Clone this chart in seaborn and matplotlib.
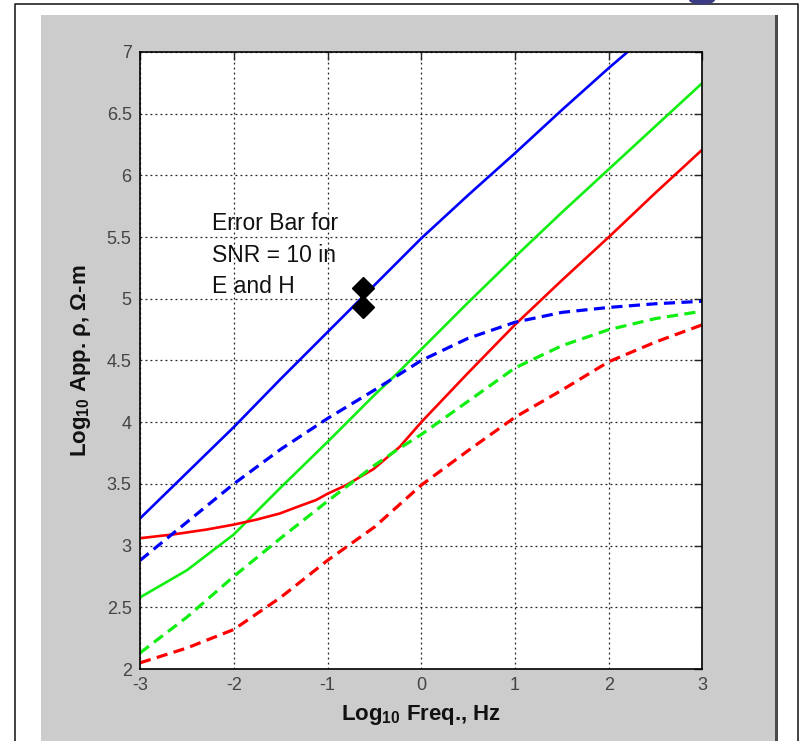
import numpy as np
import pandas as pd
import matplotlib.pyplot as plt
import matplotlib.patches as mpatches
import seaborn as sns

# valeurs (log10 freq -> log10 resistivite apparente)
freq = [-3, -2.5, -2, -1.5, -1, -0.5, -0.25, 0, 0.5, 1, 1.5, 2, 2.5, 3]
blue_solid_x = [-3, -2.5, -2, -1.5, -1, -0.5, 0, 0.5, 1, 1.5, 2, 2.2]
blue_solid = [3.22, 3.59, 3.96, 4.35, 4.73, 5.11, 5.49, 5.84, 6.18, 6.53, 6.87, 7.0]
green_solid = [2.58, 2.80, 3.09, 3.47, 3.84, 4.22, 4.40, 4.59, 4.97, 5.34, 5.70, 6.05, 6.40, 6.75]
red_solid_x = [-3, -2.65, -2.29, -2, -1.76, -1.51, -1.3, -1.12, -1, -0.8, -0.51, -0.23,
               0, 0.5, 1, 1.5, 2, 2.5, 3]
red_solid = [3.06, 3.09, 3.13, 3.17, 3.21, 3.26, 3.32, 3.37, 3.42, 3.49, 3.62, 3.80,
             4.00, 4.40, 4.79, 5.15, 5.50, 5.86, 6.21]
blue_dash = [2.88, 3.19, 3.50, 3.78, 4.03, 4.26, 4.38, 4.50, 4.68, 4.81, 4.89, 4.93, 4.96, 4.98]
green_dash = [2.13, 2.42, 2.75, 3.06, 3.36, 3.65, 3.78, 3.90, 4.17, 4.44, 4.62, 4.75, 4.84, 4.90]
red_dash = [2.05, 2.17, 2.32, 2.58, 2.88, 3.15, 3.32, 3.49, 3.77, 4.04, 4.26, 4.49, 4.65, 4.79]

# barre d'erreur
err_x = [-0.62, -0.62]
err_y = [4.93, 5.09]

x_ticks = [-3, -2, -1, 0, 1, 2, 3]
y_ticks = [2, 2.5, 3, 3.5, 4, 4.5, 5, 5.5, 6, 6.5, 7]
y_tick_labels = ['2', '2.5', '3', '3.5', '4', '4.5', '5', '5.5', '6', '6.5', '7']

sns.set_style('white')
plt.rcParams['font.family'] = ['Liberation Sans', 'DejaVu Sans']
plt.rcParams['mathtext.default'] = 'regular'

fig = plt.figure(figsize=(8.06, 7.41), dpi=100)
fig.patch.set_facecolor('white')

# cadre gris style matlab (derriere les axes)
fig.patches.append(mpatches.Rectangle((41 / 806, 0), (776 - 41) / 806, (741 - 15) / 741,
                                      transform=fig.transFigure, facecolor='#cccccc',
                                      edgecolor='none', zorder=-10))
fig.patches.append(mpatches.Rectangle((775 / 806, 0), 3 / 806, (741 - 15) / 741,
                                      transform=fig.transFigure, facecolor='#4a4a4a',
                                      edgecolor='none', zorder=-9))
fig.lines.append(plt.Line2D([15 / 806, 15 / 806, 798 / 806, 798 / 806],
                            [0, 1 - 4 / 741, 1 - 4 / 741, 0],
                            transform=fig.transFigure, color='#222222', lw=1.2, zorder=-8))
fig.patches.append(mpatches.Ellipse((702 / 806, 1.0), 26 / 806, 9 / 741,
                                    transform=fig.transFigure, facecolor='#3b3b86',
                                    edgecolor='none', zorder=-7))

ax = fig.add_axes([140 / 806, 72 / 741, 562.5 / 806, 617 / 741])
ax.set_facecolor('white')

sns.lineplot(x=blue_solid_x, y=blue_solid, color='#0000ff', lw=1.9, ax=ax)
sns.lineplot(x=freq, y=green_solid, color='#11ee11', lw=1.9, ax=ax)
sns.lineplot(x=red_solid_x, y=red_solid, color='#ff0000', lw=1.9, ax=ax)
sns.lineplot(x=freq, y=blue_dash, color='#0000ff', lw=2.3, ax=ax, linestyle=(0, (3.5, 2)))
sns.lineplot(x=freq, y=green_dash, color='#11ee11', lw=2.3, ax=ax, linestyle=(0, (3.5, 2)))
sns.lineplot(x=freq, y=red_dash, color='#ff0000', lw=2.3, ax=ax, linestyle=(0, (3.5, 2)))

ax.plot(err_x, err_y, color='black', lw=4, zorder=5)
ax.plot(err_x, err_y, 'D', color='black', markersize=11.5, zorder=6)

ax.text(-2.23, 5.70, 'Error Bar for\nSNR = 10 in\nE and H', fontsize=16.5,
        va='top', ha='left', color='#111111', linespacing=1.45)

ax.set_xlim(-3, 3)
ax.set_ylim(2, 7)
ax.set_xticks(x_ticks)
ax.set_xticklabels([str(v) for v in x_ticks])
ax.set_yticks(y_ticks)
ax.set_yticklabels(y_tick_labels)
ax.grid(True, color='#222222', linestyle=(0, (1.5, 2.5)), lw=0.9)
ax.tick_params(direction='in', length=6, width=1, top=True, right=True,
               labelsize=13, labelcolor='#444444', pad=6)
for sp in ax.spines.values():
    sp.set_color('black')
    sp.set_linewidth(1.2)

ax.set_xlabel('Log$_{10}$ Freq., Hz', fontsize=16, fontweight='bold', color='#111111', labelpad=6)
ax.set_ylabel('Log$_{10}$ App. ρ, Ω-m', fontsize=16, fontweight='bold', color='#111111', labelpad=10)

fig.savefig('out.png', dpi=100)
